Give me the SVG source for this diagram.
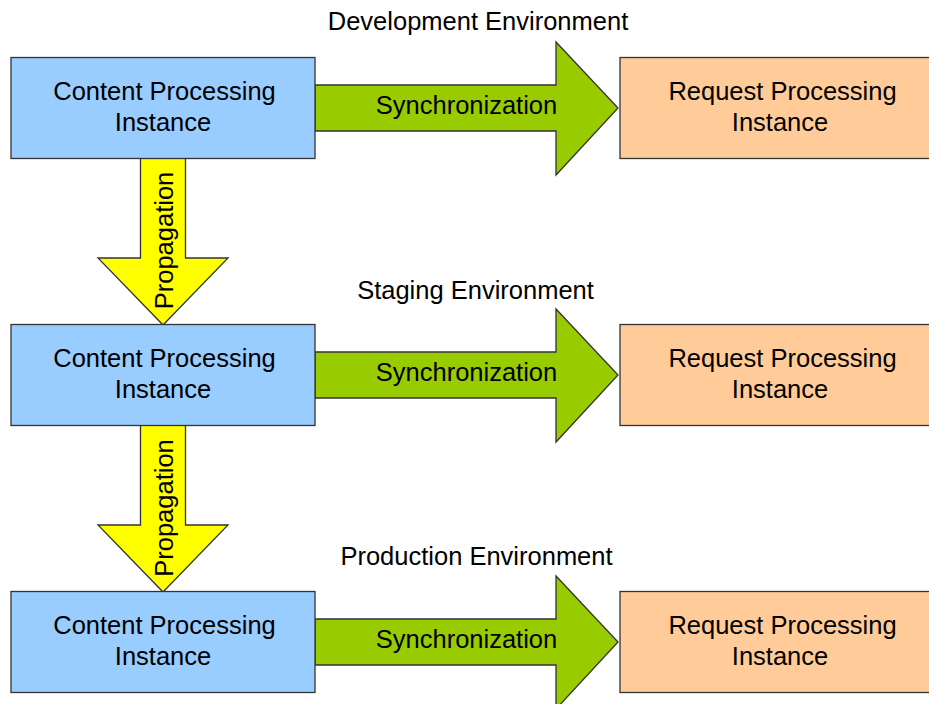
<svg xmlns="http://www.w3.org/2000/svg" width="929" height="704" viewBox="0 0 929 704">
  <style>
    text { font-family: "Liberation Sans", Arial, sans-serif; font-size: 25.5px; fill: #000; }
    .mid { text-anchor: middle; }
    .content { fill: #99CCFF; stroke: #333; stroke-width: 1.3; }
    .request { fill: #FFCC99; stroke: #333; stroke-width: 1.3; }
    .sync { fill: #99CC00; stroke: #333; stroke-width: 1.3; }
    .prop { fill: #FFFF00; stroke: #333; stroke-width: 1.3; }
  </style>
  <defs>
    <!-- block arrow pointing right, origin at shaft start / centre line -->
    <path id="syncArrow" d="M0,-23 H241 V-66 L303,0 L241,67 V23 H0 Z"/>
    <!-- block arrow pointing down, origin at shaft start / centre line -->
    <path id="propArrow" d="M-22.5,0 V100 H-65 L0,167 L65,100 H22.5 V0 Z"/>
  </defs>

  <!-- environment titles -->
  <text class="mid" x="478" y="30">Development Environment</text>
  <text class="mid" x="475.5" y="299">Staging Environment</text>
  <text class="mid" x="476.5" y="565">Production Environment</text>

  <g id="connectors">
    <g id="sync-dev">
      <use href="#syncArrow" class="sync" x="315" y="108"/>
      <text class="mid" x="466.5" y="114">Synchronization</text>
    </g>
    <g id="sync-staging">
      <use href="#syncArrow" class="sync" x="315" y="375"/>
      <text class="mid" x="466.5" y="381">Synchronization</text>
    </g>
    <g id="sync-prod">
      <use href="#syncArrow" class="sync" x="315" y="642"/>
      <text class="mid" x="466.5" y="648">Synchronization</text>
    </g>
    <g id="prop-dev-staging">
      <use href="#propArrow" class="prop" x="163" y="158"/>
      <text class="mid" transform="translate(173,240.5) rotate(-90)">Propagation</text>
    </g>
    <g id="prop-staging-prod">
      <use href="#propArrow" class="prop" x="163" y="425"/>
      <text class="mid" transform="translate(173,508) rotate(-90)">Propagation</text>
    </g>
  </g>

  <!-- development -->
  <g id="cpi-dev">
    <rect class="content" x="11" y="57.5" width="304" height="101"/>
    <text class="mid" x="164.5" y="100">Content Processing</text>
    <text class="mid" x="163" y="131">Instance</text>
  </g>
  <g id="rpi-dev">
    <rect class="request" x="620" y="57.5" width="320" height="101"/>
    <text class="mid" x="782.5" y="100">Request Processing</text>
    <text class="mid" x="780" y="131">Instance</text>
  </g>

  <!-- staging -->
  <g id="cpi-staging">
    <rect class="content" x="11" y="324.5" width="304" height="101"/>
    <text class="mid" x="164.5" y="367">Content Processing</text>
    <text class="mid" x="163" y="398">Instance</text>
  </g>
  <g id="rpi-staging">
    <rect class="request" x="620" y="324.5" width="320" height="101"/>
    <text class="mid" x="782.5" y="367">Request Processing</text>
    <text class="mid" x="780" y="398">Instance</text>
  </g>

  <!-- production -->
  <g id="cpi-prod">
    <rect class="content" x="11" y="591.5" width="304" height="101"/>
    <text class="mid" x="164.5" y="634">Content Processing</text>
    <text class="mid" x="163" y="665">Instance</text>
  </g>
  <g id="rpi-prod">
    <rect class="request" x="620" y="591.5" width="320" height="101"/>
    <text class="mid" x="782.5" y="634">Request Processing</text>
    <text class="mid" x="780" y="665">Instance</text>
  </g>
</svg>
